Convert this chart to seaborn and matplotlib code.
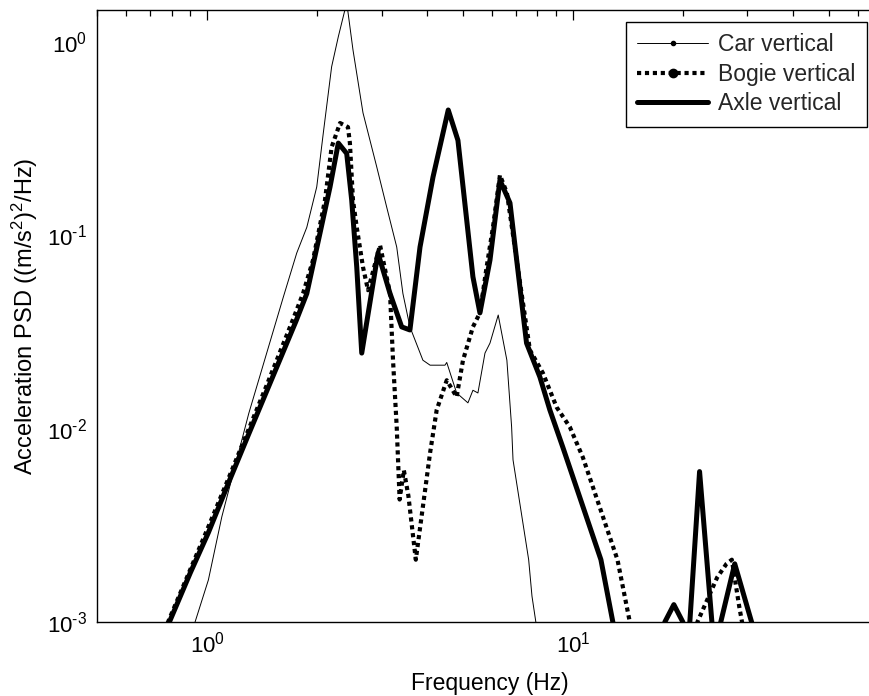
import matplotlib
matplotlib.use("Agg")
import matplotlib.pyplot as plt
import seaborn as sns
from matplotlib.lines import Line2D
from matplotlib.ticker import LogLocator, FixedFormatter, FixedLocator, NullFormatter

sns.set_theme(style="white")
plt.rcParams["font.family"] = ["Liberation Sans", "DejaVu Sans"]
plt.rcParams["mathtext.fontset"] = "custom"
plt.rcParams["mathtext.rm"] = "Liberation Sans"
plt.rcParams["mathtext.it"] = "Liberation Sans:italic"
plt.rcParams["mathtext.bf"] = "Liberation Sans:bold"

# Car body vertical acceleration PSD
car_freq = [0.88, 0.927, 1.008, 1.097, 1.30, 1.616, 1.758, 1.873, 1.994, 2.078,
            2.19, 2.284, 2.408, 2.505, 2.668, 2.909, 3.097, 3.299, 3.43, 3.585,
            3.89, 4.07, 4.47, 4.52, 4.81, 5.165, 5.33, 5.5, 5.75, 5.934,
            6.25, 6.6, 6.8, 6.86, 7.57, 7.73, 7.92, 8.1]
car_psd = [7e-4, 1.0e-3, 1.65e-3, 3.5e-3, 0.012, 0.048, 0.081, 0.11, 0.178, 0.338,
           0.745, 1.065, 1.60, 0.91, 0.43, 0.226, 0.14, 0.087, 0.050, 0.0336,
           0.0226, 0.0213, 0.0213, 0.022, 0.0153, 0.0136, 0.0158, 0.0153, 0.0246, 0.0277,
           0.0387, 0.0226, 0.0102, 0.0069, 0.0021, 0.00136, 0.0010, 0.0007]

# Bogie frame vertical acceleration PSD
bogie_freq = [0.75, 1.0, 1.156, 1.45, 1.70, 1.829, 1.948, 2.10, 2.19, 2.309, 2.427,
              2.457, 2.505, 2.565, 2.668, 2.754, 2.97, 3.163, 3.223, 3.299, 3.36,
              3.45, 3.55, 3.72, 4.07, 4.243, 4.52, 4.81, 5.007, 5.33, 5.57,
              5.81, 6.046, 6.318, 6.6, 7.02, 7.63, 8.28, 9.03, 9.81, 10.65,
              13.24, 14.31, 14.8, 21.5, 21.9, 24.8, 26.3, 27.2, 28.5, 29.0, 29.5]
bogie_psd = [8.3e-4, 3.0e-3, 5.8e-3, 0.0165, 0.035, 0.050, 0.0745, 0.152, 0.286, 0.381, 0.363,
             0.30, 0.152, 0.11, 0.0685, 0.052, 0.089, 0.050, 0.0226, 0.0102, 0.0043,
             0.0061, 0.0045, 0.0021, 0.0075, 0.0125, 0.0178, 0.0146, 0.0226, 0.0336, 0.0397,
             0.0685, 0.11, 0.205, 0.166, 0.0745, 0.0255, 0.0194, 0.0129, 0.0102, 0.0071,
             0.0021, 0.0010, 0.0006, 0.0006, 0.0010, 0.0017, 0.0020, 0.0021, 0.0012, 0.0010, 0.0006]

# Axle box vertical acceleration PSD
axle_freq = [0.75, 0.90, 1.008, 1.156, 1.30, 1.60, 1.75, 1.873, 2.036, 2.168, 2.284,
             2.408, 2.485, 2.565, 2.647, 2.932, 3.163, 3.404, 3.585, 3.82, 4.145,
             4.563, 4.85, 5.125, 5.33, 5.57, 5.934, 6.318, 6.73, 7.02, 7.47,
             8.125, 8.65, 9.39, 11.93, 12.86, 13.3, 17.5, 17.84, 18.88, 19.98,
             20.3, 20.6, 20.88, 22.2, 23.99, 24.5, 25.0, 25.37, 27.7, 30.8, 31.5]
axle_psd = [8.0e-4, 1.8e-3, 2.9e-3, 5.5e-3, 9.4e-3, 0.024, 0.036, 0.050, 0.103, 0.178, 0.30,
            0.265, 0.152, 0.0685, 0.0246, 0.081, 0.050, 0.0336, 0.0324, 0.087, 0.20,
            0.445, 0.31, 0.12, 0.061, 0.0397, 0.0745, 0.193, 0.147, 0.0745, 0.0277,
            0.0185, 0.0125, 0.0080, 0.0021, 0.0010, 0.0006, 0.0006, 0.0010, 0.00123, 0.0010,
            0.0006, 0.0006, 0.0010, 0.0060, 0.0010, 0.0006, 0.0006, 0.0010, 0.0020, 0.0010, 0.0006]

series_labels = ["Car vertical", "Bogie vertical", "Axle vertical"]
x_tick_values = [1, 10]
x_tick_labels = ["$10^{0}$", "$10^{1}$"]
y_tick_values = [1e-3, 1e-2, 1e-1, 1]
y_tick_labels = [r"$10^{\text{-3}}$", r"$10^{\text{-2}}$", r"$10^{\text{-1}}$", "$10^{0}$"]

W, H = 869, 696
fig = plt.figure(figsize=(W / 100, H / 100), dpi=100)
fig.patch.set_facecolor("white")
left, right, top, bottom = 97, 882, 10, 622
ax = fig.add_axes([left / W, 1 - bottom / H, (right - left) / W, (bottom - top) / H])
ax.set_facecolor("white")

dotted = (0, (1, 0.9))
sns.lineplot(x=car_freq, y=car_psd, ax=ax, color="black", linewidth=0.7,
             sort=False, estimator=None)
sns.lineplot(x=bogie_freq, y=bogie_psd, ax=ax, color="black", linewidth=3.0,
             linestyle=dotted, sort=False, estimator=None)
sns.lineplot(x=axle_freq, y=axle_psd, ax=ax, color="black", linewidth=3.6,
             sort=False, estimator=None)

ax.set_xscale("log")
ax.set_yscale("log")
ax.set_xlim(0.5, 70)
ax.set_ylim(1e-3, 1.464)

ax.xaxis.set_major_locator(FixedLocator(x_tick_values))
ax.xaxis.set_major_formatter(FixedFormatter(x_tick_labels))
ax.yaxis.set_major_locator(FixedLocator(y_tick_values))
ax.yaxis.set_major_formatter(FixedFormatter(y_tick_labels))
ax.xaxis.set_minor_locator(LogLocator(base=10, subs=range(2, 10), numticks=20))
ax.yaxis.set_minor_locator(LogLocator(base=10, subs=range(2, 10), numticks=20))
ax.xaxis.set_minor_formatter(NullFormatter())
ax.yaxis.set_minor_formatter(NullFormatter())

ax.tick_params(which="both", direction="in", top=True, right=True,
               color="black", width=0.9, labelsize=16, labelcolor="black")
ax.tick_params(which="major", length=7)
ax.tick_params(which="minor", length=4)
ax.tick_params(axis="y", which="major", pad=7)
ax.tick_params(axis="x", which="major", pad=7)

for s in ax.spines.values():
    s.set_visible(True)
    s.set_color("black")
    s.set_linewidth(1.0)

ax.set_xlabel("Frequency (Hz)", fontsize=16.5, color="black", labelpad=10)
ax.set_ylabel("Acceleration PSD ((m/s$^{2}$)$^{2}$/Hz)", fontsize=17, color="black", labelpad=5)

handles = [
    Line2D([], [], color="black", linewidth=0.7, marker="o", markersize=3),
    Line2D([], [], color="black", linewidth=3.0, linestyle=dotted, marker="o", markersize=6),
    Line2D([], [], color="black", linewidth=3.6),
]
leg = ax.legend(handles, series_labels, loc="upper right",
                bbox_to_anchor=((867 - left) / (right - left), 1 - 12 / (bottom - top)),
                borderaxespad=0.0, fontsize=16.5, frameon=True, fancybox=False,
                edgecolor="black", framealpha=1, handlelength=3.1, handletextpad=0.44,
                labelspacing=0.28, borderpad=0.5, numpoints=1)
leg.get_frame().set_linewidth(1.0)

fig.savefig("out.png", dpi=100, facecolor="white")
